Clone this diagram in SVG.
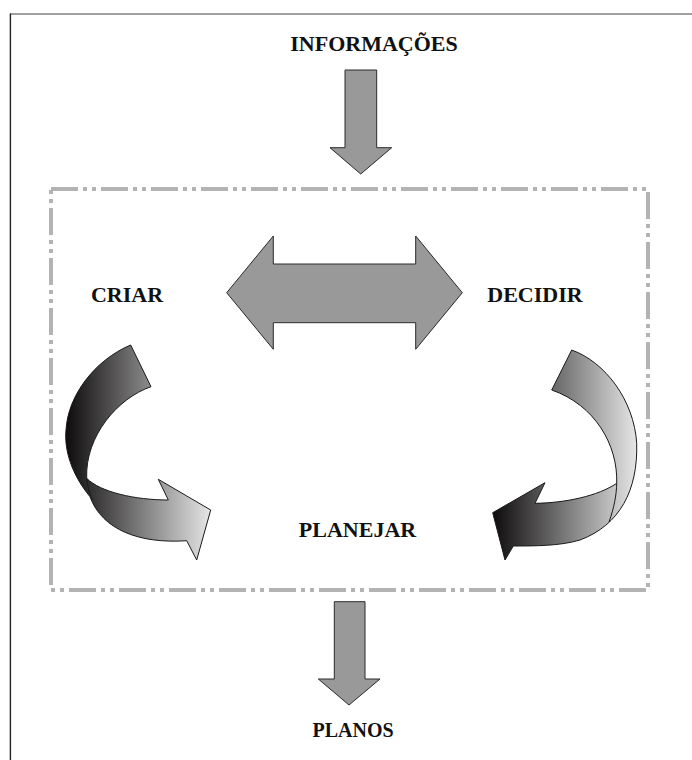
<svg xmlns="http://www.w3.org/2000/svg" width="692" height="760" viewBox="0 0 692 760">
  <style>
    .label { font-family: "Liberation Serif", "Times New Roman", serif; font-weight: bold; fill: #111; text-anchor: middle; }
    .block { fill: #999999; stroke: #2a2a2a; stroke-width: 1; stroke-linejoin: miter; }
    .curl { stroke: #1a1a1a; stroke-width: 1; stroke-linejoin: round; }
    .fold { fill: none; stroke: #1a1a1a; stroke-width: 1; }
    .zone { fill: none; stroke: #b3b3b3; stroke-width: 4; stroke-dasharray: 27 5 4 5 4 5; }
  </style>
  <defs>
    <linearGradient id="shadeCurl" x1="0" y1="0" x2="1" y2="0">
      <stop offset="0" stop-color="#0d0b0b"/>
      <stop offset="1" stop-color="#e6e6e6"/>
    </linearGradient>
  </defs>

  <rect x="0" y="0" width="692" height="760" fill="#ffffff"/>

  <!-- page frame -->
  <line x1="10" y1="14" x2="692" y2="14" stroke="#808080" stroke-width="1.4"/>
  <line x1="10.4" y1="13.5" x2="10.4" y2="760" stroke="#222222" stroke-width="1.4"/>

  <!-- process zone -->
  <rect id="zone" class="zone" x="51" y="189" width="597" height="401"/>

  <g id="connectors">
    <!-- input arrow -->
    <path class="block" d="M345,70 L376.7,70 L376.7,147.7 L391.7,147.7 L360.7,174 L330,147.7 L345,147.7 Z"/>
    <!-- output arrow -->
    <path class="block" d="M334.3,601.7 L365,601.7 L365,679 L380,679 L349,705 L318.3,679 L334.3,679 Z"/>
    <!-- two-way exchange -->
    <path class="block" d="M226.7,292.7 L273.3,236 L273.3,264 L415.7,264 L415.7,236 L462.3,292.7 L415.7,349.3 L415.7,322.7 L273.3,322.7 L273.3,349.3 Z"/>
    <!-- curl from CRIAR -->
    <path class="curl" fill="url(#shadeCurl)" d="M130.7,345 L151,386.7 C118,398 85,436 86.7,478.3 C100,492 135,500 168.3,500 L158.3,479.3 L210.7,510 L196.7,560 L186.7,540.7 C140,544 102,530 90,496.7 C72,475 64,450 66,430 C68,395 95,360 130.7,345 Z"/>
    <path class="fold" d="M86.7,478.3 C87.5,486 89,492 92,500"/>
    <!-- curl from DECIDIR -->
    <path class="curl" fill="url(#shadeCurl)" d="M571.7,350 C605,362 634,400 636.7,443.3 C638,490 620,525 580,540 C560,546 535,546 513.3,546 L505,560 L492.7,512.7 L545,482.7 L535,503.3 C565,503 598,496 616.7,483.3 C618,445 595,405 551.7,390 Z"/>
    <path class="fold" d="M616.7,483.3 C616.5,495 614,508 609,522"/>
  </g>

  <g id="informacoes"><text class="label" x="374" y="51" font-size="22">INFORMAÇÕES</text></g>
  <g id="criar"><text class="label" x="127" y="302" font-size="22">CRIAR</text></g>
  <g id="decidir"><text class="label" x="535" y="302" font-size="22">DECIDIR</text></g>
  <g id="planejar"><text class="label" x="357.5" y="537" font-size="22">PLANEJAR</text></g>
  <g id="planos"><text class="label" x="353" y="737" font-size="20">PLANOS</text></g>
</svg>
